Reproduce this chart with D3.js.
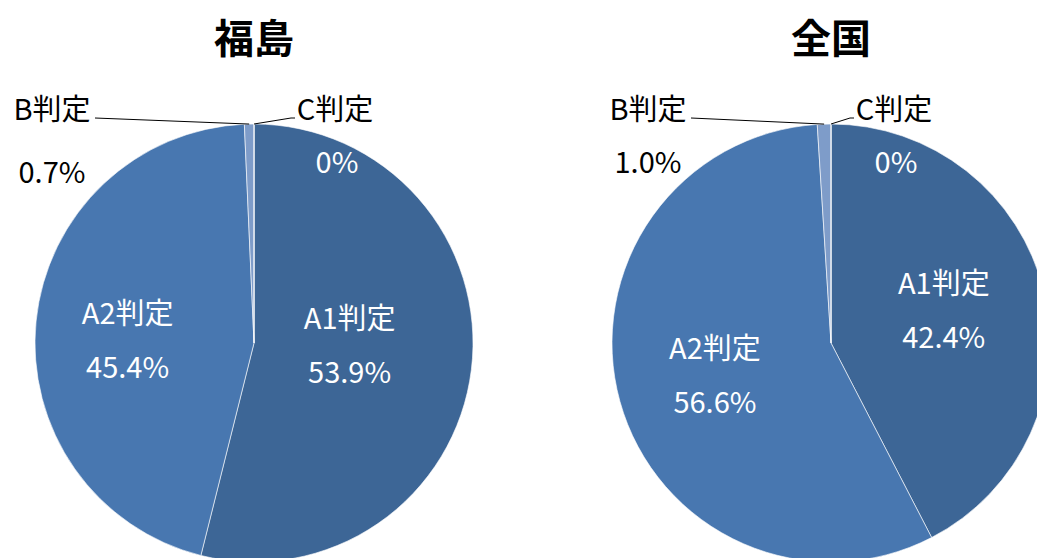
<!DOCTYPE html>
<html>
<head>
<meta charset="utf-8">
<script src="https://cdn.jsdelivr.net/npm/d3@7"></script>
<style>
  body { margin: 0; background: #fff; }
  text { font-family: "Noto Sans CJK JP", "Noto Sans", sans-serif; }
</style>
</head>
<body>
<div id="chart"></div>
<script>
// data
const categories = ["A1判定", "A2判定", "B判定", "C判定"];
const fukushimaValues = [53.9, 45.4, 0.7, 0];
const zenkokuValues = [42.4, 56.6, 1.0, 0];
const valueLabels = {
    fukushima: ["53.9%", "45.4%", "0.7%", "0%"],
    zenkoku: ["42.4%", "56.6%", "1.0%", "0%"]
};
const titles = ["福島", "全国"];

// layout / style (not data)
const colors = ["#3d6696", "#4877b0", "#7e9cc9", "#a9bcdd"];
const width = 1037, height = 558;
const radius = 219;
const fontSize = 29;
const pies = [
    {key: "fukushima", title: titles[0], values: fukushimaValues, cx: 254, cy: 343,
        labelFrac: [0.44, 0.58], labelDy: [-12, 8], bLabel: [52, 107, 63], cLabel: [335, 107, 53]},
    {key: "zenkoku", title: titles[1], values: zenkokuValues, cx: 831, cy: 343,
        labelFrac: [0.53, 0.55], labelDy: [-8, -2], bLabel: [648, 107, 53], cLabel: [894, 107, 53]}
];

const svg = d3.select("#chart").append("svg")
    .attr("width", width)
    .attr("height", height);

svg.append("rect").attr("width", width).attr("height", height).attr("fill", "#fff");

const pie = d3.pie().sort(null).value(d => d);
const arc = d3.arc().innerRadius(0).outerRadius(radius);

pies.forEach(p => {
    const g = svg.append("g").attr("transform", `translate(${p.cx},${p.cy})`);
    const arcs = pie(p.values);

    g.selectAll("path.slice")
        .data(arcs)
        .enter().append("path")
        .attr("class", "slice")
        .attr("d", arc)
        .attr("fill", (d, i) => colors[i])
        .attr("stroke", "rgba(255,255,255,0.6)")
        .attr("stroke-width", 1);

    // title
    svg.append("text")
        .attr("x", p.cx)
        .attr("y", 36)
        .attr("text-anchor", "middle")
        .attr("dominant-baseline", "central")
        .attr("font-size", 40)
        .attr("font-weight", "bold")
        .text(p.title);

    // inside labels for A1, A2
    [0, 1].forEach(i => {
        const a = arcs[i];
        const mid = (a.startAngle + a.endAngle) / 2;
        const r = radius * p.labelFrac[i];
        const x = Math.sin(mid) * r, y = -Math.cos(mid) * r + p.labelDy[i];
        const t = g.append("text")
            .attr("text-anchor", "middle")
            .attr("font-size", fontSize)
            .attr("fill", "#fff");
        t.append("tspan").attr("x", x).attr("y", y - 27).attr("dominant-baseline", "central").text(categories[i]);
        t.append("tspan").attr("x", x).attr("y", y + 27).attr("dominant-baseline", "central").text(valueLabels[p.key][i]);
    });

    // outside labels for B, C with leader lines
    const edgePoint = a => {
        const mid = (a.startAngle + a.endAngle) / 2;
        return [p.cx + Math.sin(mid) * radius, p.cy - Math.cos(mid) * radius];
    };
    const line = d3.line();

    const [bx, by, bgap] = p.bLabel;
    const bPt = edgePoint(arcs[2]);
    svg.append("path")
        .attr("d", line([[bx + 43, by + 11], bPt]))
        .attr("fill", "none").attr("stroke", "#000").attr("stroke-width", 1);
    svg.append("text").attr("x", bx).attr("y", by).attr("text-anchor", "middle")
        .attr("dominant-baseline", "central").attr("font-size", fontSize).attr("fill", "#000")
        .text(categories[2]);
    svg.append("text").attr("x", bx).attr("y", by + bgap).attr("text-anchor", "middle")
        .attr("dominant-baseline", "central").attr("font-size", fontSize).attr("fill", "#000")
        .text(valueLabels[p.key][2]);

    const [cxl, cyl, cgap] = p.cLabel;
    const cPt = edgePoint(arcs[3]);
    svg.append("path")
        .attr("d", line([cPt, [cxl - 44, cyl + 11], [cxl - 40, cyl + 11]]))
        .attr("fill", "none").attr("stroke", "#000").attr("stroke-width", 1);
    svg.append("text").attr("x", cxl).attr("y", cyl).attr("text-anchor", "middle")
        .attr("dominant-baseline", "central").attr("font-size", fontSize).attr("fill", "#000")
        .text(categories[3]);
    svg.append("text").attr("x", cxl + 2).attr("y", cyl + cgap).attr("text-anchor", "middle")
        .attr("dominant-baseline", "central").attr("font-size", fontSize).attr("fill", "#fff")
        .text(valueLabels[p.key][3]);
});
</script>
</body>
</html>
